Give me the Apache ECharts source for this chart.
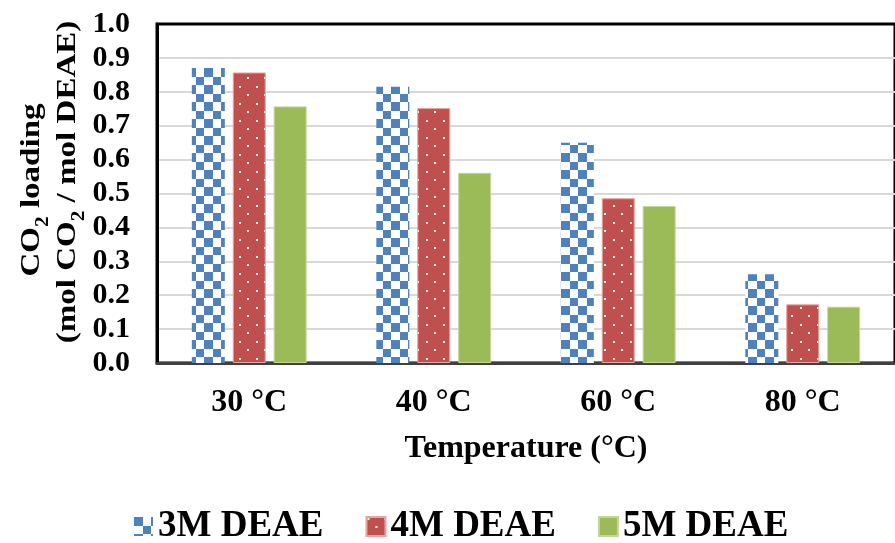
<!DOCTYPE html>
<html>
<head>
<meta charset="utf-8">
<script src="https://cdn.jsdelivr.net/npm/echarts@6/dist/echarts.min.js"></script>
<style>
  html, body { margin: 0; padding: 0; background: #fff; }
  #chart { width: 895px; height: 543px; }
</style>
</head>
<body>
<div id="chart"></div>
<script>
// Temperature groups on the x axis
const categories = ['30 °C', '40 °C', '60 °C', '80 °C'];
// Series names
const seriesNames = ['3M DEAE', '4M DEAE', '5M DEAE'];
// CO2 loading (mol CO2 / mol DEAE)
const loading3M = [0.870, 0.815, 0.650, 0.262];
const loading4M = [0.857, 0.752, 0.486, 0.173];
const loading5M = [0.757, 0.561, 0.463, 0.166];
// Y axis range and step
const yMin = 0;
const yMax = 1;
const yStep = 0.1;

const SERIF = '"Liberation Serif", "Times New Roman", serif';

// Blue/white checkerboard fill
function checkerTile() {
  const c = document.createElement('canvas');
  c.width = 17; c.height = 17;
  const g = c.getContext('2d');
  g.fillStyle = '#ffffff';
  g.fillRect(0, 0, 17, 17);
  g.fillStyle = '#4F81BD';
  g.fillRect(0, 0, 9, 9);
  g.fillRect(9, 9, 8, 8);
  return c;
}

// Red fill with small staggered white dots
function dotTile() {
  const c = document.createElement('canvas');
  c.width = 17; c.height = 17;
  const g = c.getContext('2d');
  g.fillStyle = '#C0504D';
  g.fillRect(0, 0, 17, 17);
  g.fillStyle = '#ffffff';
  g.fillRect(1, 1, 2, 2);
  g.fillRect(9, 9, 2, 2);
  return c;
}

const chart = echarts.init(document.getElementById('chart'), null, { renderer: 'canvas' });

const labelFont = { fontFamily: SERIF, fontWeight: 'bold', color: '#000' };

function barSeries(name, data, fill, border) {
  return {
    name: name,
    type: 'bar',
    data: data,
    barWidth: 33,
    barGap: '24%',
    itemStyle: { color: fill, borderColor: border, borderWidth: border ? 1 : 0 },
    emphasis: { disabled: true }
  };
}

const nameRich = {
  m: { fontFamily: SERIF, fontWeight: 'bold', fontSize: 28, lineHeight: 40, verticalAlign: 'middle', fill: '#000' },
  s: { fontFamily: SERIF, fontWeight: 'bold', fontSize: 18, lineHeight: 18, verticalAlign: 'bottom', fill: '#000' }
};

chart.setOption({
  animation: false,
  backgroundColor: '#ffffff',
  grid: {
    left: 157, top: 24, width: 748, height: 339,
    show: true, borderColor: '#000', borderWidth: 3, backgroundColor: 'transparent'
  },
  legend: {
    data: seriesNames,
    left: 129, top: 503,
    itemWidth: 19, itemHeight: 19, itemGap: 42,
    icon: 'rect',
    textStyle: Object.assign({ fontSize: 37 }, labelFont)
  },
  xAxis: {
    type: 'category',
    data: categories,
    axisLine: { lineStyle: { color: '#404040', width: 3 } },
    axisTick: { show: false },
    axisLabel: Object.assign({ fontSize: 32, margin: 24 }, labelFont),
    name: 'Temperature (°C)',
    nameLocation: 'middle',
    nameGap: 70,
    nameTextStyle: Object.assign({ fontSize: 32 }, labelFont)
  },
  yAxis: {
    type: 'value',
    min: yMin, max: yMax, interval: yStep,
    axisLine: { show: true, lineStyle: { color: '#000', width: 3 } },
    axisTick: { show: false },
    splitLine: { show: true, showMinLine: false, showMaxLine: false, lineStyle: { color: '#D9D9D9', width: 2 } },
    axisLabel: Object.assign({ fontSize: 30, margin: 27, formatter: v => v.toFixed(1) }, labelFont)
  },
  graphic: [
    {
      type: 'text', x: 32, y: 190, rotation: Math.PI / 2, scaleX: 1.18,
      style: { text: '{m|CO}{s|2}{m| loading}', rich: nameRich, align: 'center', verticalAlign: 'middle' }
    },
    {
      type: 'text', x: 68, y: 182, rotation: Math.PI / 2, scaleX: 1.18,
      style: { text: '{m|(mol CO}{s|2}{m| / mol DEAE)}', rich: nameRich, align: 'center', verticalAlign: 'middle' }
    }
  ],
  series: [
    barSeries(seriesNames[0], loading3M, { image: checkerTile(), repeat: 'repeat' }, null),
    barSeries(seriesNames[1], loading4M, { image: dotTile(), repeat: 'repeat' }, '#E4A5A3'),
    barSeries(seriesNames[2], loading5M, '#9BBB59', '#C4D79B')
  ]
});
</script>
</body>
</html>
